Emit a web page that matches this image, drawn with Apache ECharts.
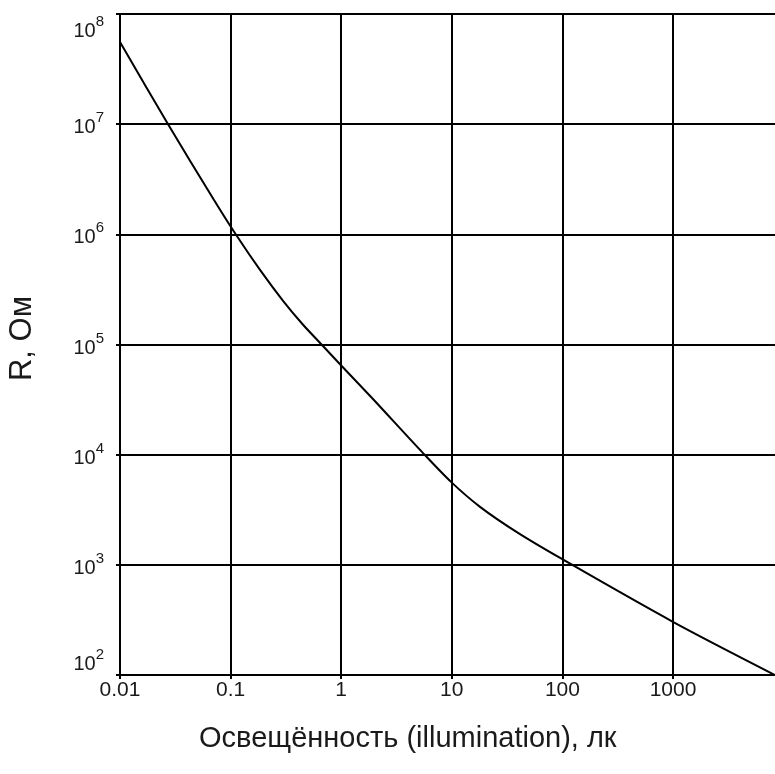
<!DOCTYPE html>
<html>
<head>
<meta charset="utf-8">
<script src="https://cdn.jsdelivr.net/npm/echarts@6/dist/echarts.min.js"></script>
<style>
html,body{margin:0;padding:0;background:#fff;}
#chart{width:775px;height:774px;}
</style>
</head>
<body>
<div id="chart"></div>
<script>
// Illumination (lx) and resistance (Ohm)
var illumination = [0.01, 0.0272, 0.0708, 0.112, 0.1845, 0.298, 0.452, 0.684, 1.0, 1.9, 5.37, 9.84, 18.0, 39.7, 99, 998, 8360];
var resistance   = [5.57e7, 1.0e7, 2.05e6, 9.9e5, 4.75e5, 2.49e5, 1.51e5, 9.7e4, 6.45e4, 3.27e4, 1.06e4, 5660, 3360, 1950, 1130, 304, 100];

var xTickLabels = ['0.01', '0.1', '1', '10', '100', '1000'];
var yTickExponents = ['2', '3', '4', '5', '6', '7', '8'];
var xAxisTitle = 'Освещённость (illumination), лк';
var yAxisTitle = 'R, Ом';

var chart = echarts.init(document.getElementById('chart'), null, {renderer: 'canvas'});
var data = illumination.map(function (x, i) { return [x, resistance[i]]; });
var FONT = '"Liberation Sans", Arial, sans-serif';

var option = {
  backgroundColor: '#ffffff',
  animation: false,
  grid: {left: 120, top: 14, width: 663.6, bottom: 99, containLabel: false, outerBoundsMode: 'none'},
  xAxis: {
    type: 'log',
    logBase: 10,
    min: 0.01,
    max: 10000,
    name: xAxisTitle,
    nameLocation: 'middle',
    nameGap: 49,
    nameTextStyle: {fontSize: 29, color: '#1a1a1a', fontFamily: FONT, padding: [0, 88, 0, 0]},
    axisLine: {show: true, lineStyle: {color: '#000', width: 2}},
    axisTick: {show: true, length: 4, lineStyle: {color: '#000', width: 2}},
    axisLabel: {
      fontSize: 21, color: '#1a1a1a', fontFamily: FONT, margin: 5,
      showMinLabel: true, showMaxLabel: true,
      formatter: function (v) {
        var e = Math.round(Math.log10(v));
        var idx = e + 2;
        return (idx >= 0 && idx < xTickLabels.length) ? xTickLabels[idx] : '';
      }
    },
    splitLine: {show: true, lineStyle: {color: '#000', width: 2}}
  },
  yAxis: {
    type: 'log',
    logBase: 10,
    min: 100,
    max: 1e8,
    name: yAxisTitle,
    nameLocation: 'middle',
    nameRotate: 90,
    nameGap: 82,
    nameTextStyle: {fontSize: 31, color: '#1a1a1a', fontFamily: FONT, padding: [0, 0, 0, 12]},
    axisLine: {show: true, lineStyle: {color: '#000', width: 2}},
    axisTick: {show: true, length: 4, lineStyle: {color: '#000', width: 2}},
    axisLabel: {
      margin: 16, color: '#1a1a1a', fontFamily: FONT,
      showMinLabel: true, showMaxLabel: true,
      formatter: function (v) {
        var e = String(Math.round(Math.log10(v)));
        if (yTickExponents.indexOf(e) < 0) return '';
        if (e === yTickExponents[0]) return '{aMin|10}{bMin|' + e + '}';
        if (e === yTickExponents[yTickExponents.length - 1]) return '{aMax|10}{bMax|' + e + '}';
        return '{a|10}{b|' + e + '}';
      },
      rich: {
        a: {fontSize: 20, color: '#1a1a1a', fontFamily: FONT, padding: [7, 0, 0, 0]},
        b: {fontSize: 15, color: '#1a1a1a', fontFamily: FONT, verticalAlign: 'top'},
        aMin: {fontSize: 20, color: '#1a1a1a', fontFamily: FONT, padding: [7, 0, 28, 0]},
        bMin: {fontSize: 15, color: '#1a1a1a', fontFamily: FONT, verticalAlign: 'top'},
        aMax: {fontSize: 20, color: '#1a1a1a', fontFamily: FONT, padding: [35, 0, 0, 0]},
        bMax: {fontSize: 15, color: '#1a1a1a', fontFamily: FONT, verticalAlign: 'top', padding: [28, 0, 0, 0]}
      }
    },
    splitLine: {show: true, lineStyle: {color: '#000', width: 2}}
  },
  series: [{
    type: 'line',
    data: data,
    smooth: 0.3,
    symbol: 'none',
    lineStyle: {color: '#000', width: 2},
    clip: true
  }]
};
chart.setOption(option);
</script>
</body>
</html>
